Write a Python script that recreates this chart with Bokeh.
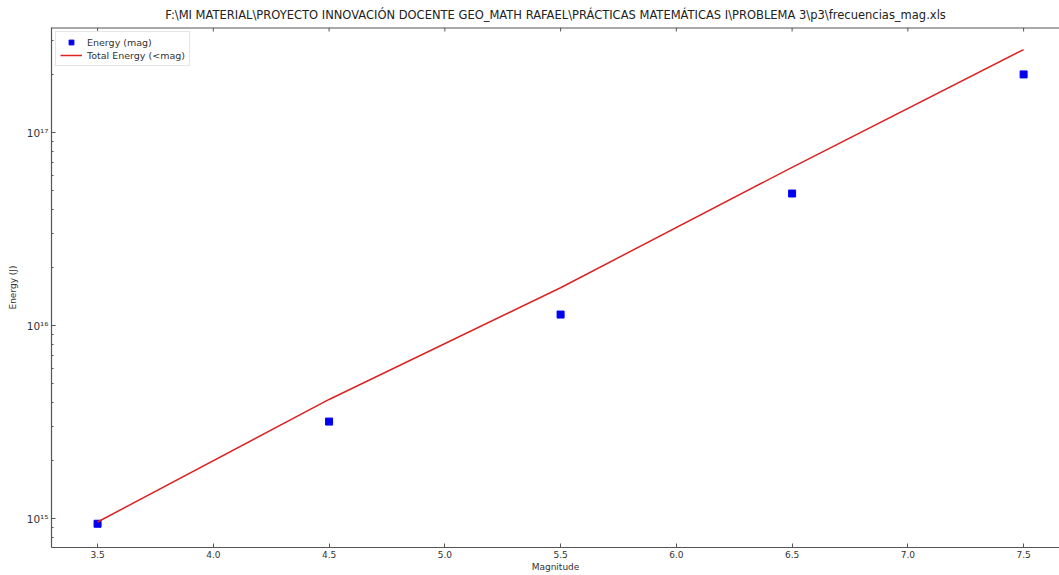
from bokeh.plotting import figure
from bokeh.models import Range1d, FixedTicker, LinearAxis, LogAxis, Legend, LegendItem, Span, NumeralTickFormatter
from bokeh.embed import file_html
from bokeh.resources import INLINE

title_text = "F:\\MI MATERIAL\\PROYECTO INNOVACIÓN DOCENTE GEO_MATH RAFAEL\\PRÁCTICAS MATEMÁTICAS I\\PROBLEMA 3\\p3\\frecuencias_mag.xls"
magnitude = [3.5, 4.5, 5.5, 6.5, 7.5]
energy_mag = [9.4e14, 3.18e15, 1.14e16, 4.83e16, 2.0e17]
total_energy = [9.6e14, 4.14e15, 1.57e16, 6.6e16, 2.69e17]
x_ticks = [3.5, 4.0, 4.5, 5.0, 5.5, 6.0, 6.5, 7.0, 7.5]
y_ticks = [1e15, 1e16, 1e17]
y_tick_labels = {10**15: "10\u00b9\u2075", 10**16: "10\u00b9\u2076", 10**17: "10\u00b9\u2077"}

FONT = "DejaVu Sans"
AX = "#555555"
Y_MIN, Y_MAX = 7.08e14, 3.5e17

p = figure(width=1059, height=575, output_backend="svg", toolbar_location=None,
           y_axis_type="log", x_range=Range1d(3.301, 7.655), y_range=Range1d(Y_MIN, Y_MAX),
           x_axis_location=None, y_axis_location=None,
           min_border_left=51, min_border_right=0, min_border_top=27, min_border_bottom=28)
p.outline_line_color = None
p.grid.visible = False
p.background_fill_color = "white"
p.border_fill_color = "white"

p.title.text = title_text
p.title.align = "center"
p.title.text_font = FONT
p.title.text_font_size = "11.5px"
p.title.text_font_style = "normal"
p.title.text_color = "#222222"
p.title.standoff = 11

minor = []
for d in [14, 15, 16, 17]:
    for k in range(2, 10):
        minor.append(k * 10.0 ** d)

def style(ax):
    ax.axis_line_color = AX
    ax.axis_line_width = 1.2
    ax.major_tick_line_color = AX
    ax.minor_tick_line_color = AX
    ax.major_tick_in = 4
    ax.major_tick_out = 0
    ax.minor_tick_in = 2
    ax.minor_tick_out = 0
    ax.major_label_text_font = FONT
    ax.major_label_text_font_size = "9px"
    ax.major_label_text_color = "#333333"
    ax.axis_label_text_font = FONT
    ax.axis_label_text_font_size = "9px"
    ax.axis_label_text_font_style = "normal"
    ax.axis_label_text_color = "#333333"
    ax.major_label_standoff = 3
    ax.axis_label_standoff = 2

xb = LinearAxis(ticker=FixedTicker(ticks=x_ticks), axis_label="Magnitude",
                formatter=NumeralTickFormatter(format="0.0"))
style(xb)
xb.major_label_standoff = 3
xb.axis_label_standoff = 1
p.add_layout(xb, "below")

yl = LogAxis(ticker=FixedTicker(ticks=y_ticks, minor_ticks=minor), axis_label="Energy (J)")
style(yl)
yl.major_label_overrides = y_tick_labels
yl.major_label_text_font_size = "10.5px"
yl.axis_label_standoff = 6
p.add_layout(yl, "left")

# top spine with inward ticks
p.add_layout(Span(location=Y_MAX, dimension="width", line_color=AX, line_width=2))
tick_len = 10 ** (-4 / 193)
p.segment(x0=x_ticks, x1=x_ticks, y0=[Y_MAX] * len(x_ticks), y1=[Y_MAX * tick_len] * len(x_ticks),
          line_color=AX, line_width=1)

r_sq = p.scatter(magnitude, energy_mag, marker="square", size=7, color="#0000ee")
r_ln = p.line(magnitude, total_energy, line_color="#dd2222", line_width=1.5)

leg = Legend(items=[LegendItem(label="Energy (mag)", renderers=[r_sq]),
                    LegendItem(label="Total Energy (<mag)", renderers=[r_ln])],
             location="top_left")
leg.label_text_font = FONT
leg.label_text_font_size = "9.5px"
leg.label_text_color = "#333333"
leg.label_height = 12
leg.glyph_height = 12
leg.glyph_width = 22
leg.spacing = 1
leg.padding = 4
leg.margin = 4
leg.border_line_color = "#cccccc"
leg.background_fill_alpha = 1.0
p.add_layout(leg)

open("out.html", "w").write(file_html(p, INLINE))
